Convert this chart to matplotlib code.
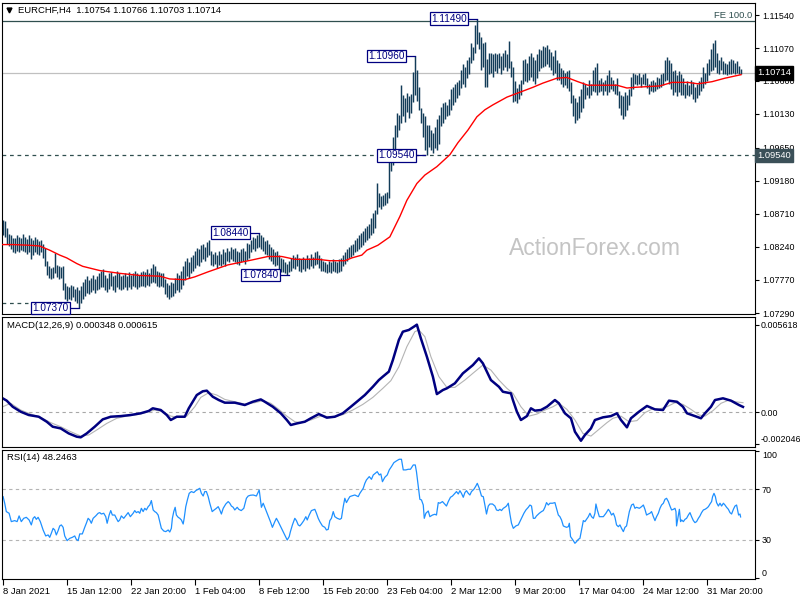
import matplotlib.pyplot as plt

plt.rcParams['font.family'] = ['Liberation Sans', 'DejaVu Sans']

# EURCHF H4 bars, highs/lows in pips above 1.07000 (bar index = position)
highs = [
    162, 160, 150, 142, 140, 137, 136, 141, 138, 136,
    142, 138, 135, 140, 137, 133, 138, 135, 132, 134,
    128, 122, 104, 96, 94, 95, 115, 98, 96, 95,
    96, 72, 68, 66, 70, 68, 64, 66, 62, 68,
    74, 78, 82, 76, 80, 84, 78, 82, 86, 90,
    92, 84, 80, 86, 88, 82, 84, 90, 86, 82,
    84, 86, 82, 88, 84, 86, 90, 86, 84, 88,
    90, 88, 92, 86, 94, 100, 96, 90, 88, 86,
    86, 78, 72, 70, 74, 72, 80, 86, 84, 90,
    96, 104, 108, 102, 110, 112, 118, 122, 120, 126,
    128, 124, 130, 134, 118, 114, 116, 112, 118, 114,
    120, 116, 122, 118, 124, 120, 122, 118, 116, 120,
    122, 118, 129, 128, 134, 138, 136, 140, 144, 140,
    138, 132, 134, 128, 124, 120, 116, 118, 112, 108,
    106, 102, 100, 104, 108, 112, 110, 114, 108, 106,
    110, 106, 112, 108, 114, 110, 116, 118, 112, 108,
    104, 102, 100, 104, 102, 106, 104, 102, 106, 108,
    112, 116, 120, 124, 126, 128, 133, 136, 140, 143,
    146, 150, 154, 157, 165, 172, 176, 214, 200, 196,
    198, 200, 202, 251, 262, 280, 298, 315, 312, 354,
    340, 336, 343, 338, 342, 373, 396, 376, 351, 322,
    314, 310, 297, 298, 290, 286, 294, 306, 312, 323,
    328, 330, 326, 334, 348, 352, 356, 358, 362, 376,
    384, 380, 390, 394, 414, 408, 440, 449, 430, 422,
    414, 416, 392, 400, 400, 398, 400, 398, 400, 396,
    400, 404, 398, 417, 388, 380, 360, 350, 356, 362,
    390, 392, 386, 396, 400, 394, 390, 398, 406, 404,
    410, 408, 411, 406, 402, 396, 404, 390, 385, 378,
    376, 372, 374, 376, 358, 340, 336, 330, 338, 348,
    358, 356, 352, 362, 356, 376, 380, 386, 362, 364,
    358, 362, 368, 376, 366, 362, 356, 364, 346, 340,
    338, 344, 340, 348, 366, 372, 370, 368, 372, 366,
    370, 372, 364, 356, 360, 362, 358, 366, 364, 370,
    372, 390, 394, 390, 386, 374, 376, 368, 374, 370,
    364, 356, 360, 354, 362, 358, 352, 356, 360, 366,
    380, 372, 386, 392, 406, 414, 418, 400, 390, 394,
    388, 386, 384, 388, 392, 390, 386, 388, 382, 377,
]
lows = [
    140, 138, 128, 125, 120, 117, 115, 118, 116, 119,
    118, 116, 114, 117, 106, 112, 116, 114, 112, 116,
    108, 96, 84, 80, 78, 80, 86, 81, 78, 79,
    62, 50, 46, 50, 48, 52, 46, 44, 37, 44,
    50, 54, 58, 56, 60, 62, 58, 62, 64, 66,
    66, 62, 60, 64, 68, 62, 60, 66, 64, 62,
    64, 66, 62, 66, 64, 68, 66, 64, 66, 68,
    68, 66, 70, 68, 72, 74, 72, 68, 66, 68,
    66, 56, 52, 50, 52, 54, 58, 62, 60, 64,
    70, 76, 82, 80, 86, 90, 94, 98, 96, 102,
    106, 104, 110, 112, 98, 96, 100, 94, 98, 96,
    100, 96, 104, 102, 106, 104, 102, 100, 98, 102,
    104, 100, 105, 108, 116, 120, 118, 122, 124, 120,
    118, 114, 112, 106, 104, 100, 96, 98, 92, 88,
    88, 86, 84, 88, 90, 94, 92, 96, 90, 88,
    92, 90, 94, 92, 96, 94, 98, 100, 94, 90,
    90, 88, 86, 88, 86, 90, 88, 86, 88, 90,
    96, 100, 104, 108, 110, 112, 116, 118, 120, 124,
    126, 130, 133, 136, 140, 143, 150, 170, 180, 178,
    182, 184, 186, 193, 232, 240, 262, 280, 290, 300,
    310, 302, 316, 308, 314, 330, 340, 332, 319, 300,
    280, 262, 255, 266, 262, 258, 264, 262, 270, 296,
    300, 306, 310, 312, 318, 326, 330, 336, 340, 350,
    356, 352, 364, 370, 386, 390, 400, 412, 406, 376,
    380, 351, 352, 370, 372, 366, 374, 372, 378, 370,
    376, 380, 374, 378, 366, 330, 332, 329, 334, 340,
    356, 360, 358, 362, 366, 360, 356, 364, 374, 378,
    380, 382, 384, 380, 376, 368, 372, 362, 362, 356,
    352, 354, 350, 346, 328, 310, 300, 304, 308, 316,
    322, 334, 340, 336, 340, 346, 344, 340, 344, 346,
    340, 346, 340, 344, 348, 346, 342, 340, 322, 312,
    306, 310, 318, 326, 338, 348, 356, 354, 356, 352,
    356, 354, 350, 342, 346, 344, 346, 348, 350, 352,
    354, 360, 362, 356, 348, 340, 344, 338, 344, 340,
    340, 336, 340, 338, 342, 334, 330, 336, 340, 346,
    350, 356, 360, 368, 374, 376, 380, 372, 370, 376,
    370, 370, 368, 370, 370, 372, 370, 372, 370, 370,
]

# red moving average (bar index, pips above 1.07000)
ma_bar = [0, 5, 13.5, 18.5, 23.5, 28.5, 32, 37, 40, 48.5, 58.5, 68.5, 78.5, 83.5, 91, 96,
          102.5, 112.5, 124.5, 132.5, 139.5, 146, 157.5, 163.5, 171, 174.5, 179.5, 182,
          187.5, 193.5, 198.5, 202, 207, 211, 217, 223.5, 227.5, 232.5, 237, 241, 245,
          252, 258.5, 265, 270, 277, 282, 287.5, 292.5, 307, 312, 316, 328.5, 334.5,
          342.5, 347.5, 354.5, 361, 369]
ma_pips = [127, 127, 126, 125, 119, 112, 108, 100, 96, 90, 86, 83, 82, 78, 77, 81,
           88, 98, 105, 110, 110, 106, 106, 104, 104, 108, 112, 119,
           126, 138, 167, 190, 214, 226, 238, 255, 272, 290, 309, 319, 326,
           337, 344, 351, 357, 364, 365, 359, 354, 354, 350, 351, 353, 358,
           358, 356, 359, 364, 369]

# MACD(12,26,9), values in units of 0.0001
macd_bar = [0, 2, 5, 9, 13, 18, 22, 25, 29, 33, 37, 39, 42, 46, 50, 54, 59, 64, 69, 73,
            75, 79, 82, 84, 87, 91, 93, 97, 100, 102, 105, 108, 111, 116, 121, 125, 129, 131, 135, 139,
            142, 144, 147, 151, 154, 158, 162, 166, 170, 174, 177, 181, 185, 188, 190, 193, 195, 198, 200, 203,
            206, 207, 209, 212, 215, 217, 220, 222, 226, 230, 232, 235, 238, 240, 244, 248, 250, 254, 255, 257,
            259, 262, 264, 266, 269, 272, 276, 278, 281, 284, 286, 289, 291, 294, 296, 300, 304, 307, 309, 312,
            314, 318, 322, 326, 330, 333, 337, 340, 342, 346, 349, 351, 354, 356, 360, 364, 368, 370]
macd_val = [9.0, 7.5, 3.6, 0.4, -1.7, -2.8, -6.0, -9.2, -10.3, -13.5, -15.6, -16.0, -13.5, -9.2, -4.5, -2.8, -2.4, -1.7, -0.6, 0.9,
            2.6, 1.5, -1.7, -4.9, -2.8, -2.8, 2.6, 11.1, 13.5, 13.9, 10.0, 7.9, 6.2, 6.2, 4.7, 6.8, 8.3, 6.8, 3.6, -0.6,
            -4.9, -8.1, -7.1, -6.0, -3.8, -1.1, -3.4, -2.8, -0.6, 3.6, 6.8, 11.1, 16.4, 20.7, 22.9, 26.1, 33.5, 46.4, 51.7, 52.8,
            55.3, 56.2, 47.4, 35.7, 22.9, 11.7, 14.3, 15.4, 18.6, 25.0, 27.1, 30.3, 34.6, 31.4, 20.7, 16.4, 13.2, 12.2, 7.9, 0.4,
            -4.9, -2.4, 2.6, 1.1, 1.5, 3.6, 7.9, 5.8, -0.6, -3.8, -12.4, -18.2, -14.5, -10.3, -4.9, -3.2, -2.4, -0.6, -4.9, -9.6,
            -3.8, 0.4, 4.1, 1.9, 1.5, 7.5, 6.8, 3.6, -0.6, -2.4, -3.8, -0.6, 3.6, 7.9, 9.0, 7.5, 4.7, 3.5]
sig_bar = [0, 4, 9, 14, 19, 24, 29, 34, 39, 43, 47, 52, 57, 62, 68, 73, 76, 80, 84, 88,
           92, 96, 99, 103, 107, 111, 116, 121, 126, 130, 134, 138, 142, 146, 149, 154, 159, 165, 170, 175,
           180, 185, 190, 194, 198, 202, 206, 208, 211, 214, 218, 222, 226, 231, 236, 240, 244, 248, 252, 255,
           259, 263, 267, 271, 275, 278, 282, 286, 290, 294, 298, 302, 305, 309, 313, 317, 321, 325, 328, 332,
           336, 340, 344, 348, 351, 355, 359, 363, 366, 370]
sig_val = [3.6, 5.8, 1.5, -1.1, -3.2, -6.6, -9.2, -12.4, -15.2, -14.5, -11.3, -7.1, -3.8, -2.4, -1.3, 0.4, 1.5, 0.4, -2.4, -3.2,
           -2.4, 3.6, 9.6, 12.6, 11.1, 8.3, 6.8, 5.3, 6.2, 7.5, 5.8, 1.9, -2.4, -6.0, -6.6, -4.9, -2.4, -2.8, -1.5, 1.5,
           5.1, 9.6, 15.4, 20.3, 29.2, 42.1, 51.7, 52.8, 48.5, 35.7, 22.9, 16.0, 16.0, 20.7, 26.1, 30.3, 27.1, 20.7, 15.4, 12.2,
           3.6, -2.4, -1.1, 1.5, 3.6, 5.8, 1.9, -4.9, -13.5, -15.2, -10.9, -6.6, -3.8, -2.4, -6.0, -5.3, -0.2, 2.4, 2.1, 3.6,
           6.2, 5.1, 1.9, -1.7, -2.4, 1.1, 5.8, 7.9, 6.8, 6.2]

# RSI(14)
rsi_bar = [
    0.2, 1.0, 1.8, 3.2, 4.3, 6.0, 7.2, 8.2, 9.3, 10.5,
    11.8, 13.2, 14.3, 15.2, 16.0, 16.8, 17.7, 18.8, 20.2, 21.5,
    22.7, 23.5, 24.3, 25.2, 26.0, 26.8, 27.7, 28.5, 29.3, 30.2,
    31.0, 32.2, 33.5, 34.8, 36.0, 36.8, 37.7, 38.5, 39.8, 41.0,
    41.8, 42.7, 43.5, 44.3, 45.2, 46.5, 47.7, 48.5, 49.3, 50.5,
    51.5, 52.2, 53.2, 54.0, 54.8, 56.0, 56.8, 57.7, 58.5, 59.3,
    60.5, 61.8, 62.7, 63.8, 65.2, 66.0, 66.8, 67.7, 68.5, 69.3,
    70.2, 71.0, 71.8, 72.7, 73.5, 74.3, 75.2, 76.0, 76.8, 77.7,
    78.5, 79.3, 80.5, 81.5, 82.7, 83.5, 84.3, 84.8, 85.5, 86.2,
    86.8, 87.7, 88.5, 89.3, 90.2, 90.7, 91.5, 92.3, 93.2, 94.3,
    95.5, 96.5, 97.7, 98.5, 99.3, 100.2, 101.0, 101.8, 102.7, 103.5,
    104.7, 105.7, 106.8, 107.7, 108.5, 109.3, 110.2, 111.5, 112.7, 113.5,
    114.3, 115.2, 116.0, 117.2, 118.0, 119.2, 120.5, 121.8, 122.7, 123.8,
    125.2, 126.8, 128.2, 129.3, 130.2, 131.0, 131.8, 132.7, 133.8, 134.8,
    136.0, 136.8, 137.7, 138.5, 139.3, 140.5, 141.5, 142.2, 143.2, 143.8,
    144.8, 146.0, 146.8, 147.7, 148.5, 149.3, 150.5, 151.5, 152.2, 153.2,
    154.3, 155.2, 156.0, 156.8, 157.7, 158.5, 159.8, 161.0, 161.8, 162.7,
    163.5, 164.3, 165.2, 166.0, 167.2, 168.5, 169.3, 170.2, 171.0, 171.8,
    172.7, 173.5, 174.3, 176.0, 177.7, 178.5, 180.2, 181.0, 181.8, 183.2,
    184.3, 185.2,
    187.2, 188.2, 189.0, 189.8, 191.0, 192.2, 193.2, 194.3, 195.5, 196.8,
    198.2, 199.3, 200.2, 201.5, 202.7, 203.8, 205.2, 206.2, 206.8, 207.7,
    208.5, 209.3, 210.2, 210.7, 211.5, 212.7, 213.5, 214.8, 216.0, 216.8,
    217.7, 218.5, 219.8, 221.0, 221.8, 222.7, 223.8, 224.8, 226.0, 226.8,
    227.7, 228.5, 229.3, 230.2, 231.0, 231.8, 232.7, 233.5, 234.3, 235.5,
    236.5, 237.2, 238.2, 239.3, 240.2, 241.0, 241.8, 242.7, 243.5, 244.8,
    246.0, 246.8, 247.7, 248.5, 249.3, 250.2, 251.0, 251.8, 252.7, 253.5,
    254.3, 255.2, 256.5, 257.7, 258.5, 259.3, 260.5, 261.5, 262.7, 263.5,
    264.3, 265.2, 266.0, 266.8, 268.2, 269.3, 270.2, 271.0, 271.8, 272.7,
    273.5, 274.8, 276.0, 276.8, 277.7, 278.5, 279.3, 280.2, 281.0, 281.8,
    282.7, 283.2, 283.8, 285.2, 286.0, 286.8, 287.7, 288.5, 289.3, 290.2,
    291.0, 291.8, 292.7, 293.5, 294.3, 295.2, 296.0, 296.5, 297.2, 298.2,
    299.3, 300.2, 301.5, 302.7, 303.5, 304.3, 305.2, 306.0, 306.8, 307.7,
    308.5, 309.3, 310.2, 311.0, 311.8, 313.2, 314.3, 315.2, 316.0, 316.8,
    318.2, 319.3, 320.2, 321.0, 321.8, 322.7, 323.5, 324.3, 325.2, 326.0,
    326.8, 327.7, 328.5, 329.3, 330.2, 331.0, 331.8, 332.7, 333.5, 334.3,
    335.2, 336.0, 336.5, 336.8, 337.7, 338.2, 338.8, 339.3, 340.2, 341.0,
    341.8, 342.7, 343.5, 344.3, 345.2, 346.0, 346.8, 347.7, 348.5, 349.3,
    350.2, 351.0, 351.8, 352.7, 353.5, 354.3, 354.8, 355.5, 356.2, 356.8,
    357.7, 358.5, 359.3, 360.2, 361.0, 361.8, 362.7, 363.5, 364.3, 365.2,
    366.0, 366.8, 367.3, 367.8, 368.5, 368.8,
]
rsi_val = [
    64.2, 59.0, 52.4, 51.1, 44.5, 45.3, 44.5, 49.0, 44.5, 47.1,
    47.9, 45.8, 41.9, 47.1, 48.4, 46.3, 47.9, 44.5, 37.9, 33.2,
    34.0, 32.1, 35.3, 39.2, 37.9, 34.0, 37.4, 41.1, 41.9, 40.0,
    33.2, 29.5, 31.3, 32.1, 33.2, 30.5, 29.5, 34.8, 34.8, 40.0,
    43.2, 47.1, 45.8, 43.2, 47.1, 49.0, 51.1, 51.6, 50.5, 51.1,
    48.4, 43.2, 49.7, 53.2, 49.7, 49.7, 47.1, 44.5, 45.8, 49.0,
    47.1, 49.7, 51.6, 48.4, 51.1, 53.2, 51.6, 52.4, 51.1, 55.0,
    52.4, 55.0, 53.7, 56.3, 57.6, 61.1, 53.7, 52.4, 51.6, 49.7,
    44.5, 39.2, 37.1, 36.6, 37.9, 36.3, 39.2, 47.1, 52.4, 55.8,
    49.7, 47.9, 47.1, 45.8, 42.6, 47.1, 56.3, 61.6, 66.8, 68.2,
    67.4, 68.9, 70.0, 70.8, 66.8, 64.7, 68.2, 68.2, 64.2, 59.0,
    52.4, 53.7, 55.0, 56.3, 53.7, 50.5, 55.0, 58.4, 60.3, 59.0,
    56.8, 55.8, 53.7, 55.8, 54.2, 53.2, 55.0, 62.9, 64.7, 65.3,
    65.5, 64.7, 69.5, 55.8, 59.0, 55.8, 52.4, 49.0, 44.5, 40.0,
    44.5, 47.1, 44.5, 41.9, 39.2, 35.3, 32.1, 30.0, 32.7, 36.6,
    41.9, 47.1, 45.3, 41.9, 41.1, 42.6, 45.3, 48.4, 45.8, 49.7,
    53.2, 53.7, 54.2, 51.1, 47.1, 44.5, 41.1, 40.0, 37.9, 38.4,
    45.3, 47.1, 52.4, 48.4, 47.1, 46.3, 47.1, 56.3, 62.9, 59.5,
    62.1, 64.2, 64.7, 65.5, 64.2, 66.8, 70.8, 74.7, 77.4, 80.0,
    77.9, 81.3,
    83.9, 81.3, 82.1, 76.0, 79.5, 81.3, 85.3, 87.9, 91.0, 92.4,
    93.7, 93.7, 85.3, 85.3, 85.8, 85.8, 89.2, 89.2, 83.9, 72.1,
    62.1, 61.6, 57.6, 47.1, 51.1, 52.9, 48.4, 49.7, 50.3, 49.7,
    59.5, 59.0, 60.3, 58.2, 56.8, 60.3, 63.7, 64.7, 66.8, 68.2,
    66.3, 68.9, 66.8, 63.7, 67.4, 68.9, 66.8, 65.5, 68.2, 70.0,
    72.6, 74.7, 70.8, 64.7, 64.2, 57.6, 50.5, 56.8, 58.4, 58.4,
    56.8, 53.7, 53.2, 54.2, 53.2, 55.0, 55.8, 56.8, 59.0, 50.5,
    43.2, 39.2, 41.1, 41.9, 44.5, 47.1, 51.1, 53.7, 55.8, 57.6,
    56.8, 47.1, 47.1, 49.0, 51.1, 52.4, 53.2, 55.8, 59.5, 57.6,
    59.0, 59.0, 59.5, 55.0, 49.7, 48.4, 45.8, 41.1, 40.5, 40.0,
    40.5, 43.2, 32.7, 29.5, 27.4, 28.7, 30.5, 31.3, 37.9, 45.3,
    44.5, 46.3, 48.4, 51.1, 48.4, 47.1, 51.1, 58.4, 53.7, 48.4,
    48.4, 48.4, 51.1, 54.2, 52.4, 49.7, 51.1, 47.9, 41.9, 40.5,
    41.9, 39.2, 36.6, 40.0, 41.1, 52.4, 57.6, 58.4, 55.0, 55.8,
    55.0, 56.3, 57.6, 54.2, 49.7, 50.5, 51.1, 52.4, 48.4, 45.3,
    48.4, 51.1, 55.0, 57.6, 59.0, 62.1, 62.9, 60.3, 56.8, 53.7,
    54.2, 55.0, 52.4, 41.1, 49.7, 54.2, 44.5, 45.8, 44.5, 46.3,
    47.1, 49.7, 51.6, 48.4, 45.3, 43.7, 44.5, 47.1, 49.0, 51.6,
    53.7, 54.2, 55.0, 56.3, 58.4, 60.3, 64.2, 66.8, 64.2, 59.5,
    56.8, 59.0, 56.8, 59.0, 57.6, 55.8, 54.2, 51.6, 50.5, 54.2,
    56.8, 57.6, 53.7, 49.7, 50.5, 48.2,
]

# swing labels
swing_bar = [237, 206, 211, 128, 143, 38]
swing_level = [1.11490, 1.10960, 1.09540, 1.08440, 1.07840, 1.07370]

price_ticks = [1.11540, 1.11070, 1.10600, 1.10130, 1.09650, 1.09180, 1.08710, 1.08240, 1.07770, 1.07290]
date_bars = [0, 32, 64, 96, 128, 160, 192, 224, 256, 288, 320, 352]
date_labels = ["8 Jan 2021", "15 Jan 12:00", "22 Jan 20:00", "1 Feb 04:00", "8 Feb 12:00", "15 Feb 20:00",
               "23 Feb 04:00", "2 Mar 12:00", "9 Mar 20:00", "17 Mar 04:00", "24 Mar 12:00", "31 Mar 20:00"]

last_price = 1.10714
support = 1.09540
fe_level = 1.11455

bar_col = '#123c58'
navy = '#000080'
slate = '#2f4f4f'
fs = 6.8
tfs = 6.4  # right axis labels

fig = plt.figure(figsize=(8, 6), dpi=100)
W, H = 800.0, 600.0
ax1 = fig.add_axes([2 / W, 1 - 314 / H, 753 / W, 311 / H])
ax2 = fig.add_axes([2 / W, 1 - 447 / H, 753 / W, 130 / H])
ax3 = fig.add_axes([2 / W, 1 - 579 / H, 753 / W, 129 / H])

for ax in (ax1, ax2, ax3):
    ax.set_xlim(-0.35, 376)
    for s in ax.spines.values():
        s.set_linewidth(0.8)
        s.set_color('black')
    ax.yaxis.tick_right()
    ax.tick_params(axis='y', direction='out', length=3, width=0.8, pad=2, labelsize=tfs)
    ax.tick_params(axis='x', bottom=False, labelbottom=False)

# ---- price panel
bars = list(range(len(highs)))
hi_p = [1.07 + v / 10000 for v in highs]
lo_p = [1.07 + v / 10000 for v in lows]
ax1.set_ylim(1.07281, 1.11711)
ax1.axhline(fe_level, color=slate, lw=0.9, zorder=1)
ax1.axhline(last_price, color='#c0c0c0', lw=0.9, zorder=1)
ax1.axhline(support, color=slate, lw=0.9, ls=(0, (3, 3)), zorder=1)
ax1.hlines(1.07440, -0.5, 12.5, color=slate, lw=0.9, ls=(0, (3, 3)))
ax1.vlines(bars, lo_p, hi_p, color=bar_col, lw=1.05, zorder=2)
ax1.plot(ma_bar, [1.07 + v / 10000 for v in ma_pips], color='red', lw=1.0, zorder=3)

ax1.set_yticks(price_ticks)
ax1.set_yticklabels(['%.5f' % t for t in price_ticks])

for b, lv in zip(swing_bar, swing_level):
    ax1.plot([b - 5, b], [lv, lv], color=navy, lw=0.9, zorder=4)
    ax1.text(b - 5, lv, '%.5f' % lv, ha='right', va='center', fontsize=7.2, color=navy, zorder=5,
             bbox=dict(boxstyle='square,pad=0.12', fc='white', ec=navy, lw=0.9))

ytr = ax1.get_yaxis_transform()
ax1.text(1.003, last_price, '%.5f' % last_price, transform=ytr, ha='left', va='center', fontsize=tfs + 0.3,
         color='white', zorder=10, clip_on=False,
         bbox=dict(boxstyle='square,pad=0.22', fc='black', ec='black'))
ax1.text(1.003, support, '%.5f' % support, transform=ytr, ha='left', va='center', fontsize=tfs + 0.3,
         color='white', zorder=10, clip_on=False,
         bbox=dict(boxstyle='square,pad=0.22', fc='#3b5058', ec='#3b5058'))
ax1.text(0.996, 1.11540, 'FE 100.0', transform=ytr, ha='right', va='center', fontsize=fs, color=slate)

ax1.text(0.021, 0.977, 'EURCHF,H4  1.10754 1.10766 1.10703 1.10714', transform=ax1.transAxes,
         ha='left', va='center', fontsize=fs, color='black')
ax1.plot([0.0095], [0.976], marker='v', ms=3.5, color='black', transform=ax1.transAxes, clip_on=False)
ax1.text(0.7875, 0.212, 'ActionForex.com', transform=ax1.transAxes, ha='center', va='center',
         fontsize=16.5, color='#c4c4c4', zorder=0)

# ---- MACD panel
ax2.set_ylim(-22.2e-4, 61.1e-4)
ax2.axhline(0, color='#a8a8a8', lw=0.8, ls=(0, (3, 3)))
ax2.plot(sig_bar, [v * 1e-4 for v in sig_val], color='#b4b4b4', lw=0.8)
ax2.plot(macd_bar, [v * 1e-4 for v in macd_val], color=navy, lw=1.8)
ax2.set_yticks([0.005618, 0.0, -0.002046])
ax2.set_yticklabels(['0.005618', '0.00', '-0.002046'])
ax2.get_yticklabels()[2].set_va('bottom')
ax2.tick_params(axis='y', pad=1)
ax2.text(0.0066, 0.938, 'MACD(12,26,9) 0.000348 0.000615', transform=ax2.transAxes,
         ha='left', va='center', fontsize=fs)

# ---- RSI panel
ax3.set_ylim(-0.77, 101.0)
ax3.axhline(70, color='#b4b4b4', lw=0.8, ls=(0, (3, 3)))
ax3.axhline(30, color='#b4b4b4', lw=0.8, ls=(0, (3, 3)))
ax3.plot(rsi_bar, rsi_val, color='#1e90ff', lw=0.9)
ax3.set_yticks([100, 70, 30, 0])
ax3.set_yticklabels(['100', '70', '30', '0'])
tl = ax3.get_yticklabels()
tl[0].set_va('top')
tl[3].set_va('bottom')
ax3.text(0.0066, 0.938, 'RSI(14) 48.2463', transform=ax3.transAxes, ha='left', va='center', fontsize=fs)

ax3.tick_params(axis='x', bottom=True, labelbottom=True, direction='out', length=4, width=0.8,
                pad=1.5, labelsize=fs)
ax3.set_xticks(date_bars)
ax3.set_xticklabels(date_labels, ha='left')

fig.savefig('out.png', dpi=100)
